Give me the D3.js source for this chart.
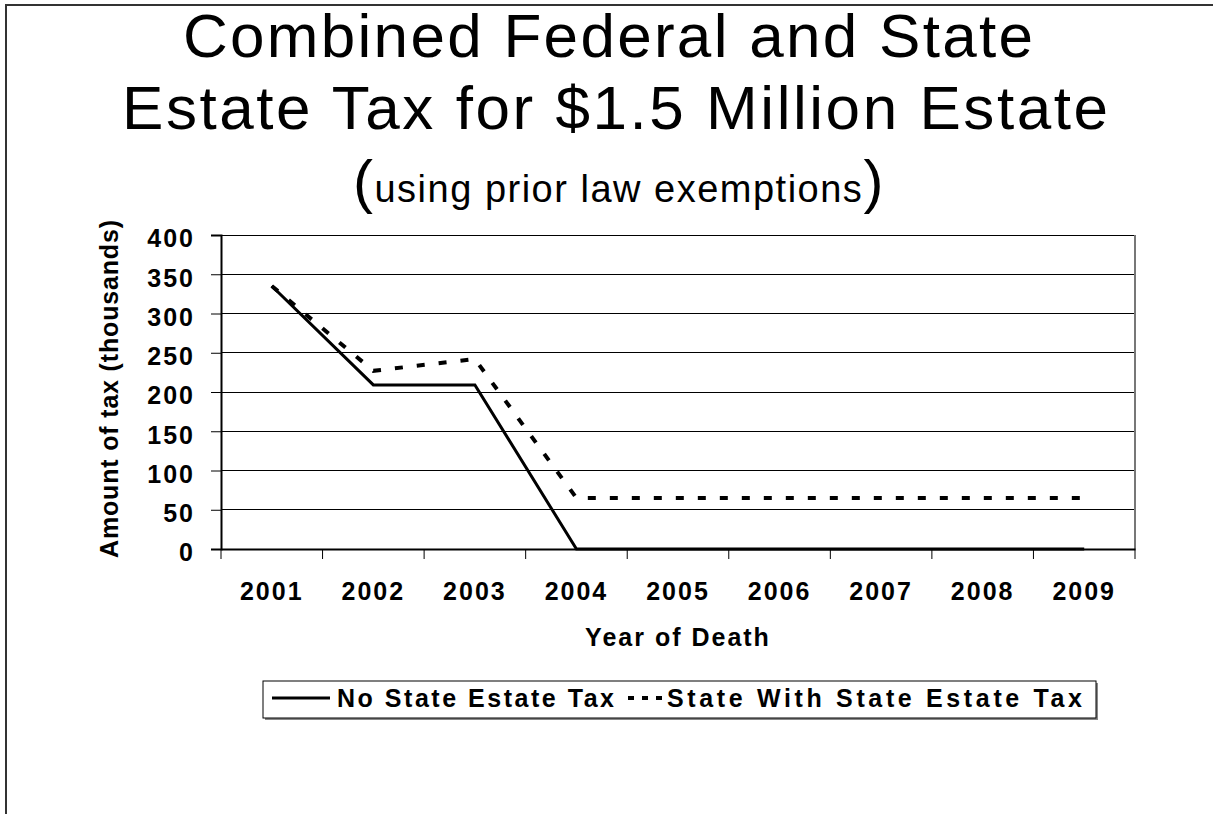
<!DOCTYPE html>
<html>
<head>
<meta charset="utf-8">
<script src="https://cdn.jsdelivr.net/npm/d3@7"></script>
<style>
  body { margin: 0; background: #fff; }
  text { font-family: "Liberation Sans", Arial, sans-serif; fill: #000; }
</style>
</head>
<body>
<script>
// chart data
var years = ["2001", "2002", "2003", "2004", "2005", "2006", "2007", "2008", "2009"];
var noStateTax = [335, 209, 209, 0, 0, 0, 0, 0, 0];
var withStateTax = [335, 227, 242, 65, 65, 65, 65, 65, 65];
var yTicks = [0, 50, 100, 150, 200, 250, 300, 350, 400];
var seriesNames = ["No State Estate Tax", "State With State Estate Tax"];

function show_chart(width, height) {
    var svg = d3.select("body").append("svg")
                .attr("width", width)
                .attr("height", height);

    // outer frame (only left and top edges visible)
    svg.append("path")
        .attr("d", "M6," + height + " L6,5 L" + width + ",5")
        .attr("fill", "none")
        .attr("stroke", "#333")
        .attr("stroke-width", 2);

    // title
    var title = svg.append("g");
    title.append("text")
        .attr("x", 183).attr("y", 57)
        .attr("font-size", "62px")
        .attr("textLength", 850)
        .attr("lengthAdjust", "spacing")
        .text("Combined Federal and State");
    title.append("text")
        .attr("x", 122).attr("y", 129)
        .attr("font-size", "62px")
        .attr("textLength", 986)
        .attr("lengthAdjust", "spacing")
        .text("Estate Tax for $1.5 Million Estate");
    var sub = title.append("text")
        .attr("x", 353).attr("y", 202)
        .style("letter-spacing", "1.5px");
    sub.append("tspan").attr("font-size", "60px").text("(");
    sub.append("tspan").attr("font-size", "38px").text("using prior law exemptions");
    sub.append("tspan").attr("font-size", "60px").text(")");

    // scales
    var x = d3.scaleBand().domain(years).range([221, 1135]);
    var y = d3.scaleLinear().domain([0, 400]).range([549, 235]);
    var cx = function(d, i) { return x(years[i]) + x.bandwidth() / 2; };

    // gridlines
    svg.append("g")
        .selectAll("line")
        .data(yTicks.filter(function(d) { return d > 0; }))
        .enter()
        .append("line")
        .attr("x1", 221).attr("x2", 1135)
        .attr("y1", function(d) { return y(d); })
        .attr("y2", function(d) { return y(d); })
        .attr("stroke", "#000")
        .attr("stroke-width", 1)
        .attr("shape-rendering", "crispEdges");

    // right edge of plot area
    svg.append("line")
        .attr("x1", 1135).attr("x2", 1135)
        .attr("y1", y(400)).attr("y2", y(0))
        .attr("stroke", "#777")
        .attr("stroke-width", 2);

    // y axis
    var yAxis = svg.append("g")
        .attr("transform", "translate(221,0)")
        .call(d3.axisLeft(y).tickValues(yTicks).tickSize(10).tickPadding(16));
    yAxis.select(".domain").attr("stroke", "#000").attr("stroke-width", 2);
    yAxis.selectAll(".tick line").attr("stroke", "#000").attr("stroke-width", 1);
    yAxis.selectAll(".tick text")
        .attr("font-size", "25px")
        .attr("font-weight", "bold")
        .attr("font-family", "Liberation Sans, Arial, sans-serif")
        .attr("dy", "0.47em")
        .style("letter-spacing", "2px");

    // x axis: labels at band centres, tick marks at band edges
    var xAxis = svg.append("g")
        .attr("transform", "translate(0,549)")
        .call(d3.axisBottom(x).tickSize(0).tickPadding(33));
    xAxis.select(".domain").attr("stroke", "#000").attr("stroke-width", 2);
    xAxis.selectAll(".tick text")
        .attr("font-size", "25px")
        .attr("font-weight", "bold")
        .attr("font-family", "Liberation Sans, Arial, sans-serif")
        .style("letter-spacing", "2px");
    var edges = years.map(function(d) { return x(d); }).concat([x.range()[1]]);
    xAxis.selectAll(".edge")
        .data(edges)
        .enter()
        .append("line")
        .attr("class", "edge")
        .attr("x1", function(d) { return d; })
        .attr("x2", function(d) { return d; })
        .attr("y1", 0).attr("y2", 10)
        .attr("stroke", "#000")
        .attr("stroke-width", 1);

    // axis titles
    svg.append("text")
        .attr("x", 678).attr("y", 646)
        .attr("text-anchor", "middle")
        .attr("font-size", "25px")
        .attr("font-weight", "bold")
        .style("letter-spacing", "2px")
        .text("Year of Death");
    svg.append("text")
        .attr("transform", "translate(118,389) rotate(-90)")
        .attr("text-anchor", "middle")
        .attr("font-size", "25px")
        .attr("font-weight", "bold")
        .attr("textLength", 338)
        .attr("lengthAdjust", "spacing")
        .text("Amount of tax (thousands)");

    // lines
    var line = d3.line().x(cx).y(function(d) { return y(d); });
    svg.append("path")
        .datum(withStateTax)
        .attr("d", line)
        .attr("fill", "none")
        .attr("stroke", "#000")
        .attr("stroke-width", 4)
        .attr("stroke-dasharray", "8,14");
    svg.append("path")
        .datum(noStateTax)
        .attr("d", line)
        .attr("fill", "none")
        .attr("stroke", "#000")
        .attr("stroke-width", 3);

    // legend
    var legend = svg.append("g");
    legend.append("rect")
        .attr("x", 265).attr("y", 683)
        .attr("width", 833).attr("height", 37)
        .attr("fill", "#888");
    legend.append("rect")
        .attr("x", 263).attr("y", 681)
        .attr("width", 833).attr("height", 37)
        .attr("fill", "#fff")
        .attr("stroke", "#000")
        .attr("stroke-width", 1);
    legend.append("line")
        .attr("x1", 272).attr("x2", 330)
        .attr("y1", 698).attr("y2", 698)
        .attr("stroke", "#000").attr("stroke-width", 3);
    legend.append("text")
        .attr("x", 337).attr("y", 707)
        .attr("font-size", "25px").attr("font-weight", "bold")
        .attr("textLength", 277)
        .attr("lengthAdjust", "spacing")
        .text(seriesNames[0]);
    legend.append("line")
        .attr("x1", 628).attr("x2", 662)
        .attr("y1", 698).attr("y2", 698)
        .attr("stroke", "#000").attr("stroke-width", 4)
        .attr("stroke-dasharray", "6,8");
    legend.append("text")
        .attr("x", 667).attr("y", 707)
        .attr("font-size", "25px").attr("font-weight", "bold")
        .attr("textLength", 415)
        .attr("lengthAdjust", "spacing")
        .text(seriesNames[1]);
}

var width = 1213;
var height = 814;

document.addEventListener("DOMContentLoaded", function() { show_chart(width, height); });
</script>
</body>
</html>
